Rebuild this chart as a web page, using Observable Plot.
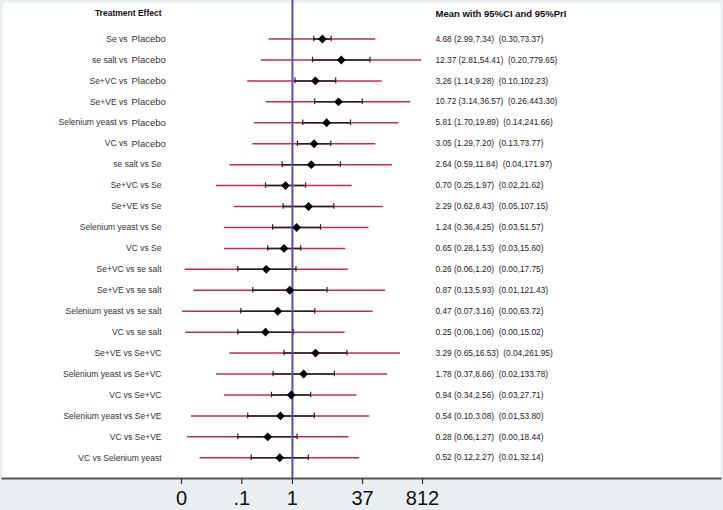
<!DOCTYPE html>
<html><head><meta charset="utf-8">
<script src="https://cdn.jsdelivr.net/npm/d3@7"></script>
<script src="https://cdn.jsdelivr.net/npm/@observablehq/plot@0.6"></script>
<style>
html,body{margin:0;padding:0;background:#e9eef1;}
#chart svg{display:block;}
#chart svg text{white-space:pre;}
</style></head><body><div id="chart"></div>
<script>
const treatment = ["Se","se salt","Se+VC","Se+VE","Selenium yeast","VC","se salt","Se+VC","Se+VE","Selenium yeast","VC","Se+VC","Se+VE","Selenium yeast","VC","Se+VE","Selenium yeast","VC","Selenium yeast","VC","VC"];
const comparator = ["Placebo","Placebo","Placebo","Placebo","Placebo","Placebo","Se","Se","Se","Se","Se","se salt","se salt","se salt","se salt","Se+VC","Se+VC","Se+VC","Se+VE","Se+VE","Selenium yeast"];
const mean  = [4.68,12.37,3.26,10.72,5.81,3.05,2.64,0.70,2.29,1.24,0.65,0.26,0.87,0.47,0.25,3.29,1.78,0.94,0.54,0.28,0.52];
const ciLo  = [2.99,2.81,1.14,3.14,1.70,1.29,0.59,0.25,0.62,0.36,0.28,0.06,0.13,0.07,0.06,0.65,0.37,0.34,0.10,0.06,0.12];
const ciHi  = [7.34,54.41,9.28,36.57,19.89,7.20,11.84,1.97,8.43,4.25,1.53,1.20,5.93,3.16,1.06,16.53,8.66,2.56,3.08,1.27,2.27];
const priLo = [0.30,0.20,0.10,0.26,0.14,0.13,0.04,0.02,0.05,0.03,0.03,0.0040,0.0062,0.0035,0.0041,0.04,0.02,0.03,0.0055,0.0045,0.0086];
const priHi = [73.37,779.65,102.23,443.30,241.66,73.77,171.97,21.62,107.15,51.57,15.60,17.75,121.43,63.72,15.02,261.95,133.78,27.71,53.80,18.44,32.14];
const tickValues = [0.0033,0.0735,1,37,812];
const tickLabels = ["0",".1","1","37","812"];

const fmt = v => v.toFixed(2);
const rows = treatment.map((t,i)=>({
  label: `${t} vs ${comparator[i]}`, t, c: comparator[i],
  mean: mean[i], ciLo: ciLo[i], ciHi: ciHi[i], priLo: priLo[i], priHi: priHi[i],
  txt: `${fmt(mean[i])} (${fmt(ciLo[i])},${fmt(ciHi[i])})  (${fmt(priLo[i])},${fmt(priHi[i])})`
}));
const placeboRows = rows.filter(r => r.c === "Placebo");
const otherRows = rows.filter(r => r.c !== "Placebo");
const ticks = tickValues.map((v, i) => ({v, label: tickLabels[i]}));

const chart = Plot.plot({
  width: 723, height: 510,
  marginTop: 2, marginLeft: 2, marginRight: 3, marginBottom: 32,
  style: {background: "transparent", fontFamily: "'Liberation Sans', Arial, sans-serif", color: "#222"},
  x: {type: "log", domain: [0.0033, 812], range: [181, 422], label: null, axis: null},
  y: {type: "band", domain: rows.map(r => r.label), range: [28.03, 467.77], padding: 0, round: false, axis: null},
  marks: [
    Plot.frame({fill: "white", stroke: "none"}),
    Plot.ruleY(rows, {y: "label", x1: "priLo", x2: "priHi", stroke: "#bf2f4d", strokeWidth: 1.5}),
    Plot.ruleY(rows, {y: "label", x1: "ciLo", x2: "ciHi", stroke: "#222", strokeWidth: 1.5}),
    Plot.tickX(rows, {y: "label", x: "ciLo", stroke: "#222", strokeWidth: 1.2, insetTop: 7.7, insetBottom: 7.7}),
    Plot.tickX(rows, {y: "label", x: "ciHi", stroke: "#222", strokeWidth: 1.2, insetTop: 7.7, insetBottom: 7.7}),
    Plot.ruleX([1], {stroke: "#5549cc", strokeWidth: 2, insetTop: -2}),
    Plot.dot(rows, {y: "label", x: "mean", symbol: "diamond2", r: 4, fill: "black", stroke: "none"}),
    Plot.text(["Treatment Effect"], {frameAnchor: "top-left", dx: 159, dy: 11, lineAnchor: "middle", textAnchor: "end", fontWeight: "bold", fontSize: 8.5, fill: "#111"}),
    Plot.text(["Mean with 95%CI and 95%PrI"], {frameAnchor: "top-left", dx: 433, dy: 11, lineAnchor: "middle", textAnchor: "start", fontWeight: "bold", fontSize: 9.5, fill: "#111"}),
    Plot.text(otherRows, {y: "label", text: "label", frameAnchor: "left", dx: 159, textAnchor: "end", fontSize: 8.5, fill: "#333"}),
    Plot.text(placeboRows, {y: "label", text: d => d.t + " vs", frameAnchor: "left", dx: 125, textAnchor: "end", fontSize: 8.5, fill: "#333"}),
    Plot.text(placeboRows, {y: "label", text: d => d.c, frameAnchor: "left", dx: 129, textAnchor: "start", fontSize: 9.5, fill: "#333"}),
    Plot.text(rows, {y: "label", text: "txt", frameAnchor: "left", dx: 433, textAnchor: "start", fontSize: 8.3, fill: "#222"}),
    Plot.frame({anchor: "bottom", stroke: "#555", strokeWidth: 2}),
    Plot.tickX(ticks, {x: "v", frameAnchor: "bottom", stroke: "#333", strokeWidth: 1.2, insetTop: 476, insetBottom: -6}),
    Plot.text(ticks, {x: "v", text: "label", frameAnchor: "bottom", dy: 12, lineAnchor: "top", fontSize: 20, fill: "#111"})
  ]
});
document.getElementById("chart").appendChild(chart);
</script></body></html>
